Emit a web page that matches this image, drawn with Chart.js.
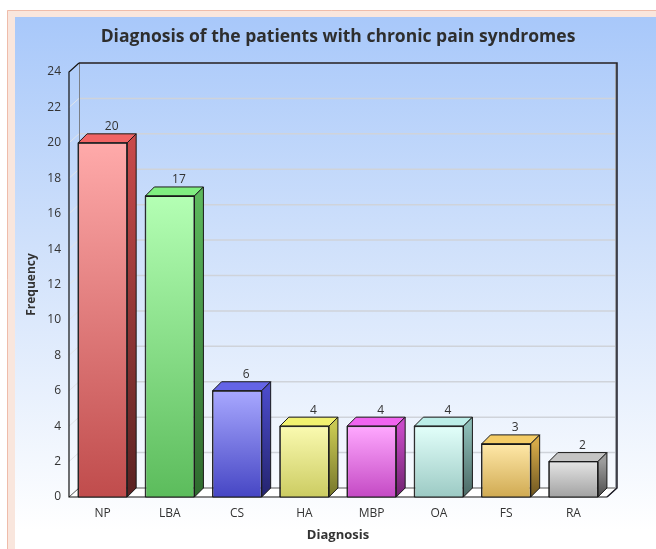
<!DOCTYPE html>
<html>
<head>
<meta charset="utf-8">
<script src="https://cdn.jsdelivr.net/npm/chart.js@4.4.1/dist/chart.umd.min.js"></script>
<style>
  html, body { margin: 0; padding: 0; background: #ffffff; }
  #wrap { width: 656px; height: 549px; position: relative; }
</style>
</head>
<body>
<div id="wrap"><canvas id="c" width="656" height="549"></canvas></div>
<script>
// ---- data ----
const categories = ['NP', 'LBA', 'CS', 'HA', 'MBP', 'OA', 'FS', 'RA'];
const frequency = [20, 17, 6, 4, 4, 4, 3, 2];
const yMin = 0;
const yMax = 24;
const yStep = 2;
const chartTitle = 'Diagnosis of the patients with chronic pain syndromes';
const xTitle = 'Diagnosis';
const yTitle = 'Frequency';

// ---- styles ----
const frontTop    = ['#ffaaaa', '#b4ffb4', '#a8a8ff', '#fafab0', '#ffa8ff', '#e2fffa', '#ffe8a8', '#e4e4e4'];
const frontBottom = ['#c04c4c', '#5cbc5c', '#4646c4', '#cccc62', '#c44ac4', '#9ccac4', '#d0aa52', '#a2a2a2'];
const topFace     = ['#f06464', '#80ee80', '#6464e6', '#f2f270', '#f064f0', '#bceee8', '#f4cc66', '#c4c4c4'];
const sideTop     = ['#c84a4a', '#5cb85c', '#4a4ac8', '#c8c852', '#c84ac8', '#8cbcb6', '#d4a848', '#9c9c9c'];
const sideBottom  = ['#5a2222', '#2e6a2e', '#24246e', '#76762a', '#6e226e', '#4a6864', '#6e5620', '#4e4e4e'];
const DEPTH_X = 9, DEPTH_Y = 9;
const WALL_X = 10, WALL_Y = 9;
const FONT = "'Open Sans', 'DejaVu Sans', sans-serif";

const bgPlugin = {
  id: 'bg',
  beforeDraw(chart) {
    const c = chart.ctx;
    const W = chart.width, H = chart.height;
    c.save();
    c.fillStyle = '#ffffff';
    c.fillRect(0, 0, W, H);
    c.fillStyle = '#f9e6dd';
    c.fillRect(7, 10, W - 7, H - 10);
    c.strokeStyle = '#efbcaa';
    c.lineWidth = 1;
    c.beginPath();
    c.moveTo(7.5, H);
    c.lineTo(7.5, 10.5);
    c.lineTo(W, 10.5);
    c.stroke();
    const g = c.createLinearGradient(0, 17, 0, 530);
    g.addColorStop(0, '#a8c8fa');
    g.addColorStop(0.45, '#d0e1fb');
    g.addColorStop(1, '#ffffff');
    c.fillStyle = g;
    c.fillRect(15, 17, W - 15, H - 17);
    c.restore();
  }
};

const wallPlugin = {
  id: 'walls',
  beforeDatasetsDraw(chart) {
    const c = chart.ctx;
    const ys = chart.scales.y;
    const a = chart.chartArea;
    const L = a.left, R = a.right, T = a.top, B = a.bottom;
    c.save();
    for (let v = yMin + yStep; v <= yMax; v += yStep) {
      const y = ys.getPixelForValue(v);
      c.strokeStyle = '#cfd3da';
      c.lineWidth = 1.5;
      c.beginPath();
      c.moveTo(L + WALL_X, y - WALL_Y);
      c.lineTo(R + WALL_X, y - WALL_Y);
      c.stroke();
      c.strokeStyle = '#e0e4ea';
      c.lineWidth = 1;
      c.beginPath();
      c.moveTo(L, y);
      c.lineTo(L + WALL_X, y - WALL_Y);
      c.stroke();
    }
    // floor
    c.fillStyle = '#ffffff';
    c.beginPath();
    c.moveTo(L, B);
    c.lineTo(L + WALL_X, B - WALL_Y);
    c.lineTo(R + WALL_X, B - WALL_Y);
    c.lineTo(R, B);
    c.closePath();
    c.fill();
    c.strokeStyle = '#555555';
    c.lineWidth = 1;
    c.beginPath();
    c.moveTo(L, B);
    c.lineTo(L + WALL_X, B - WALL_Y);
    c.lineTo(R + WALL_X, B - WALL_Y);
    c.lineTo(R, B);
    c.stroke();
    // back wall left edge
    c.strokeStyle = '#7a7f88';
    c.beginPath();
    c.moveTo(L + WALL_X + 0.5, T - WALL_Y);
    c.lineTo(L + WALL_X + 0.5, B - WALL_Y);
    c.stroke();
    // back wall right edge shade
    c.strokeStyle = '#a0a4aa';
    c.lineWidth = 2;
    c.beginPath();
    c.moveTo(R + WALL_X - 1, T - WALL_Y + 1);
    c.lineTo(R + WALL_X - 1, B - WALL_Y);
    c.stroke();
    // back wall outline
    c.strokeStyle = '#1e1e28';
    c.lineWidth = 1.5;
    c.beginPath();
    c.moveTo(L + WALL_X, T - WALL_Y);
    c.lineTo(R + WALL_X, T - WALL_Y);
    c.lineTo(R + WALL_X, B - WALL_Y);
    c.lineTo(R, B);
    c.stroke();
    // front left axis
    c.strokeStyle = '#111111';
    c.lineWidth = 1.2;
    c.beginPath();
    c.moveTo(L + WALL_X, T - WALL_Y);
    c.lineTo(L, T);
    c.lineTo(L, B);
    c.lineTo(R, B);
    c.stroke();
    c.restore();
  },
  afterDatasetsDraw(chart) {
    const c = chart.ctx;
    const meta = chart.getDatasetMeta(0);
    c.save();
    meta.data.forEach((bar, i) => {
      const p = bar.getProps(['x', 'y', 'base', 'width'], true);
      const l = p.x - p.width / 2, r = p.x + p.width / 2;
      const t = p.y, b = p.base;
      c.lineWidth = 1;
      c.strokeStyle = '#1a1a1a';
      c.lineJoin = 'round';
      c.fillStyle = topFace[i];
      c.beginPath();
      c.moveTo(l, t);
      c.lineTo(l + DEPTH_X, t - DEPTH_Y);
      c.lineTo(r + DEPTH_X, t - DEPTH_Y);
      c.lineTo(r, t);
      c.closePath();
      c.fill();
      c.stroke();
      const sg = c.createLinearGradient(0, t, 0, b);
      sg.addColorStop(0, sideTop[i]);
      sg.addColorStop(1, sideBottom[i]);
      c.fillStyle = sg;
      c.beginPath();
      c.moveTo(r, t);
      c.lineTo(r + DEPTH_X, t - DEPTH_Y);
      c.lineTo(r + DEPTH_X, b - DEPTH_Y);
      c.lineTo(r, b);
      c.closePath();
      c.fill();
      c.stroke();
      c.strokeRect(l, t, r - l, b - t);
      c.fillStyle = '#333333';
      c.font = '12px ' + FONT;
      c.textAlign = 'center';
      c.textBaseline = 'bottom';
      c.fillText(String(frequency[i]), p.x + DEPTH_X, t - DEPTH_Y - 1);
    });
    c.restore();
  }
};

new Chart(document.getElementById('c'), {
  type: 'bar',
  data: {
    labels: categories,
    datasets: [{
      label: yTitle,
      data: frequency,
      backgroundColor(ctx) {
        const chart = ctx.chart;
        const i = ctx.dataIndex;
        if (!chart.chartArea || !chart.scales.y) return frontTop[i];
        const ys = chart.scales.y;
        const top = ys.getPixelForValue(frequency[i]);
        const bot = ys.getPixelForValue(0);
        const g = chart.ctx.createLinearGradient(0, top, 0, bot);
        g.addColorStop(0, frontTop[i]);
        g.addColorStop(1, frontBottom[i]);
        return g;
      },
      borderColor: '#1a1a1a',
      borderWidth: 1,
      barPercentage: 0.73,
      categoryPercentage: 1.0
    }]
  },
  options: {
    responsive: false,
    animation: false,
    devicePixelRatio: 1,
    layout: { padding: { left: 15, right: 49, top: 0, bottom: 0 } },
    plugins: {
      legend: { display: false },
      tooltip: { enabled: false },
      title: {
        display: true,
        fullSize: false,
        text: chartTitle,
        color: '#2e2e2e',
        font: { family: FONT, size: 17.5, weight: 'bold' },
        padding: { top: 27, bottom: 24 }
      }
    },
    scales: {
      x: {
        afterFit(scale) { scale.height = 52; },
        grid: { display: false, drawTicks: false },
        border: { display: false },
        ticks: { color: '#333333', font: { family: FONT, size: 12 }, padding: 9 },
        title: {
          display: true, text: xTitle, color: '#333333',
          font: { family: FONT, size: 13, weight: 'bold' },
          padding: { top: 0, bottom: 6 }
        }
      },
      y: {
        afterFit(scale) { scale.width = 54; },
        min: yMin, max: yMax,
        grid: { display: false, drawTicks: false },
        border: { display: false },
        ticks: { stepSize: yStep, color: '#333333', font: { family: FONT, size: 12 }, padding: 8 },
        title: {
          display: true, text: yTitle, color: '#333333',
          font: { family: FONT, size: 12, weight: 'bold' },
          padding: { top: 9, bottom: 0 }
        }
      }
    }
  },
  plugins: [bgPlugin, wallPlugin]
});
</script>
</body>
</html>
